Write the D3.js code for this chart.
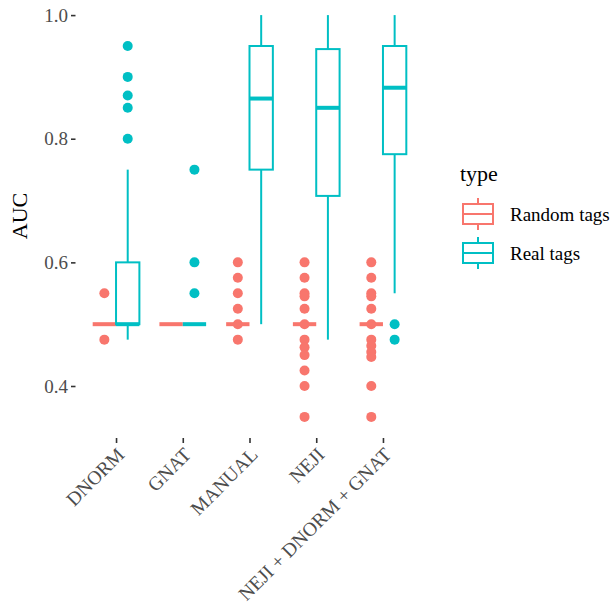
<!DOCTYPE html>
<html>
<head>
<meta charset="utf-8">
<script src="https://cdn.jsdelivr.net/npm/d3@7"></script>
<style>
  html, body { margin: 0; padding: 0; background: #fff; }
  text { font-family: "Liberation Serif", "Times New Roman", serif; }
</style>
</head>
<body>
<svg id="chart" width="616" height="609"></svg>
<script>
const categories = ["DNORM", "GNAT", "MANUAL", "NEJI", "NEJI + DNORM + GNAT"];
const seriesNames = ["Random tags", "Real tags"];
const yTicks = [0.4, 0.6, 0.8, 1.0];

// Random tags boxplot statistics
const randLower  = [0.5, 0.5, 0.5, 0.5, 0.5];
const randQ1     = [0.5, 0.5, 0.5, 0.5, 0.5];
const randMedian = [0.5, 0.5, 0.5, 0.5, 0.5];
const randQ3     = [0.5, 0.5, 0.5, 0.5, 0.5];
const randUpper  = [0.5, 0.5, 0.5, 0.5, 0.5];
const randOutliers = [
  [0.55, 0.475],
  [],
  [0.6, 0.575, 0.55, 0.525, 0.5, 0.475],
  [0.6, 0.575, 0.55, 0.545, 0.525, 0.5, 0.475, 0.4625, 0.45, 0.425, 0.4, 0.35],
  [0.6, 0.575, 0.55, 0.545, 0.525, 0.5, 0.475, 0.465, 0.455, 0.447, 0.4, 0.35]
];

// Real tags boxplot statistics
const realLower  = [0.475, 0.5, 0.5, 0.475, 0.55];
const realQ1     = [0.5, 0.5, 0.75, 0.7075, 0.775];
const realMedian = [0.5, 0.5, 0.865, 0.85, 0.8825];
const realQ3     = [0.6, 0.5, 0.95, 0.945, 0.95];
const realUpper  = [0.75, 0.5, 1.0, 1.0, 1.0];
const realOutliers = [
  [0.8, 0.85, 0.87, 0.9, 0.95],
  [0.55, 0.6, 0.75],
  [],
  [],
  [0.5, 0.475]
];

const colors = ["#F8766D", "#00BFC4"];

function buildSeries(lower, q1, med, q3, upper, outs) {
  return categories.map((c, i) => ({
    cat: c, lower: lower[i], q1: q1[i], median: med[i], q3: q3[i], upper: upper[i], outliers: outs[i]
  }));
}
const allSeries = [
  buildSeries(randLower, randQ1, randMedian, randQ3, randUpper, randOutliers),
  buildSeries(realLower, realQ1, realMedian, realQ3, realUpper, realOutliers)
];

const svg = d3.select("#chart");
const panel = { left: 76, right: 423, top: -5, bottom: 437 };

const x = d3.scalePoint().domain(categories).range([panel.left, panel.right]).padding(0.6);
const step = x.step();
const dodge = d3.scaleBand().domain(seriesNames).range([-0.35 * step, 0.35 * step]);
const boxW = dodge.bandwidth();
const y = d3.scaleLinear().domain([0.3175, 1.0325]).range([panel.bottom, panel.top]);

// Y axis
const yAxis = d3.axisLeft(y).tickValues(yTicks).tickFormat(d3.format(".1f")).tickSize(4.5).tickPadding(3);
const gy = svg.append("g").attr("transform", `translate(${panel.left - 0.5},0)`).call(yAxis);
gy.select(".domain").remove();
gy.selectAll(".tick line").attr("stroke", "#333").attr("stroke-width", 1.6);
gy.selectAll(".tick text").attr("fill", "#4D4D4D").style("font-size", "19px")
  .style("font-family", "'Liberation Serif', serif");

// X axis
const xAxis = d3.axisBottom(x).tickSize(5).tickFormat(d => d);
const gx = svg.append("g").attr("transform", `translate(0,${panel.bottom + 1})`).call(xAxis);
gx.select(".domain").remove();
gx.selectAll(".tick line").attr("stroke", "#333").attr("stroke-width", 1.6);
gx.selectAll(".tick text")
  .attr("fill", "#4D4D4D").style("font-size", "19.5px")
  .style("font-family", "'Liberation Serif', serif")
  .attr("text-anchor", "end")
  .attr("x", 0).attr("y", 0).attr("dy", "0.72em")
  .attr("transform", "translate(-1,8) rotate(-45)");

// Boxes
allSeries.forEach((ser, si) => {
  const col = colors[si];
  const g = svg.append("g");
  ser.forEach(d => {
    const cx = x(d.cat) + dodge(seriesNames[si]) + boxW / 2;
    // whiskers
    if (d.upper > d.q3) {
      g.append("line").attr("x1", cx).attr("x2", cx).attr("y1", y(d.q3)).attr("y2", y(d.upper))
        .attr("stroke", col).attr("stroke-width", 2);
    }
    if (d.lower < d.q1) {
      g.append("line").attr("x1", cx).attr("x2", cx).attr("y1", y(d.q1)).attr("y2", y(d.lower))
        .attr("stroke", col).attr("stroke-width", 2);
    }
    // box
    if (d.q3 > d.q1) {
      g.append("rect").attr("x", cx - boxW / 2).attr("y", y(d.q3)).attr("width", boxW)
        .attr("height", y(d.q1) - y(d.q3)).attr("fill", "#fff").attr("stroke", col).attr("stroke-width", 2);
    }
    // outliers
    d.outliers.forEach(v => {
      g.append("circle").attr("cx", cx).attr("cy", y(v)).attr("r", 5).attr("fill", col);
    });
    // median
    g.append("line").attr("x1", cx - boxW / 2).attr("x2", cx + boxW / 2)
      .attr("y1", y(d.median)).attr("y2", y(d.median))
      .attr("stroke", col).attr("stroke-width", 4);
  });
});

// Y title
svg.append("text").attr("transform", `translate(27,${(panel.top + panel.bottom) / 2}) rotate(-90)`)
  .attr("text-anchor", "middle").style("font-size", "22px").attr("fill", "#000").text("AUC");

// Legend
const lg = svg.append("g");
lg.append("text").attr("x", 460).attr("y", 181).style("font-size", "22px").attr("fill", "#000").text("type");
seriesNames.forEach((name, i) => {
  const cy = 214 + i * 39;
  const kx = 478;
  const k = lg.append("g");
  k.append("line").attr("x1", kx).attr("x2", kx).attr("y1", cy - 16).attr("y2", cy + 16)
    .attr("stroke", colors[i]).attr("stroke-width", 2);
  k.append("rect").attr("x", kx - 15).attr("y", cy - 10).attr("width", 30).attr("height", 20)
    .attr("fill", "#fff").attr("stroke", colors[i]).attr("stroke-width", 2);
  k.append("line").attr("x1", kx - 15).attr("x2", kx + 15).attr("y1", cy).attr("y2", cy)
    .attr("stroke", colors[i]).attr("stroke-width", 2);
  lg.append("text").attr("x", 510).attr("y", cy + 7).style("font-size", "19px").attr("fill", "#000").text(name);
});
</script>
</body>
</html>
